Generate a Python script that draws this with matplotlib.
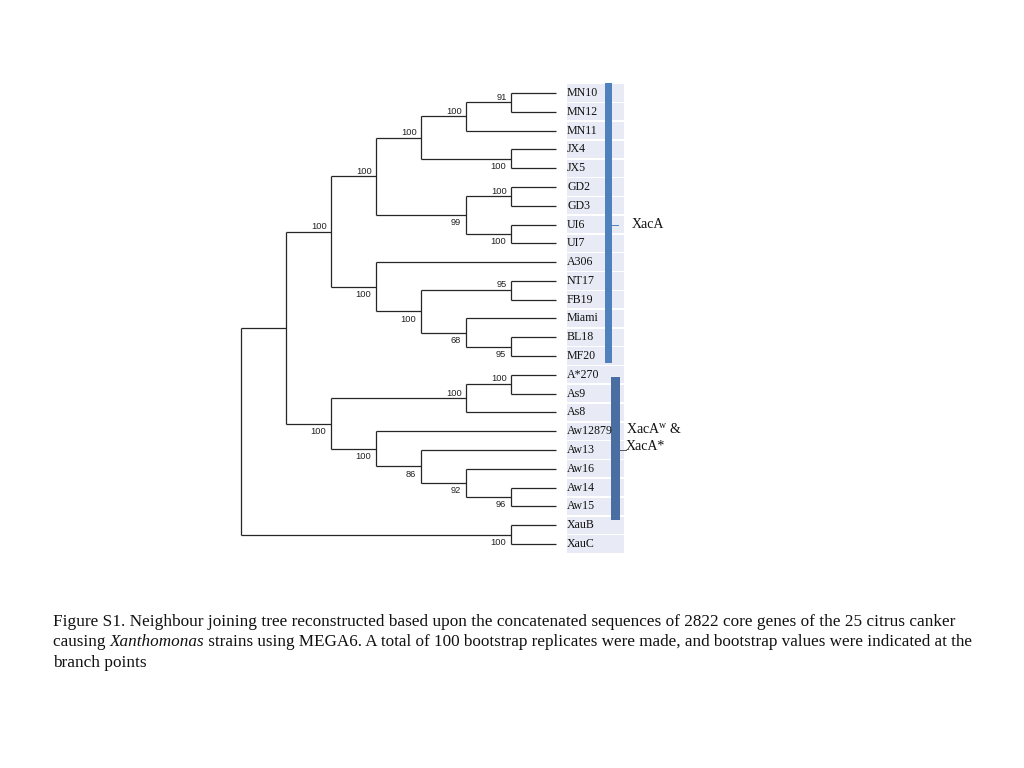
import matplotlib
matplotlib.use("Agg")
import matplotlib.pyplot as plt
from matplotlib.patches import Rectangle

# ---------------- data ----------------
leaves = ["MN10", "MN12", "MN11", "JX4", "JX5", "GD2", "GD3", "UI6", "UI7",
          "A306", "NT17", "FB19", "Miami", "BL18", "MF20",
          "A*270", "As9", "As8", "Aw12879", "Aw13", "Aw16", "Aw14", "Aw15",
          "XauB", "XauC"]

# internal nodes: name -> (upper child, lower child, bootstrap)
nodes = {
    "mn1012": ("MN10", "MN12", 91),
    "mn": ("mn1012", "MN11", 100),
    "jx": ("JX4", "JX5", 100),
    "mnjx": ("mn", "jx", 100),
    "gd": ("GD2", "GD3", 100),
    "ui": ("UI6", "UI7", 100),
    "gdui": ("gd", "ui", 99),
    "a1": ("mnjx", "gdui", 100),
    "ntfb": ("NT17", "FB19", 95),
    "blmf": ("BL18", "MF20", 95),
    "mia": ("Miami", "blmf", 68),
    "h": ("ntfb", "mia", 100),
    "a2": ("A306", "h", 100),
    "xaca": ("a1", "a2", 100),
    "as": ("A*270", "As9", 100),
    "as8": ("as", "As8", 100),
    "aw1415": ("Aw14", "Aw15", 96),
    "aw16": ("Aw16", "aw1415", 92),
    "aw13": ("Aw13", "aw16", 86),
    "aw": ("Aw12879", "aw13", 100),
    "xacw": ("as8", "aw", 100),
    "ingroup": ("xaca", "xacw", None),
    "xau": ("XauB", "XauC", 100),
    "root": ("ingroup", "xau", None),
}

group_names = ["XacA", "XacA$^{\\rm w}$ &\nXacA*"]
group_mark = ["UI6", "Aw13"]

# caption: list of lines, each a list of (text, italic)
caption_lines = [
    [("Figure S1. Neighbour joining tree reconstructed based upon the concatenated sequences of 2822 core genes of the 25 citrus canker", False)],
    [("causing ", False), ("Xanthomonas", True),
     (" strains using MEGA6. A total of 100 bootstrap replicates were made, and bootstrap values were indicated at the", False)],
    [("branch points", False)],
]

plt.rcParams["mathtext.fontset"] = "custom"
plt.rcParams["mathtext.rm"] = "Liberation Serif"
plt.rcParams["mathtext.it"] = "Liberation Serif:italic"

# ---------------- layout ----------------
W, H = 1024, 768
X0, DX = 241.0, 45.0      # pixel x of root, pixel per level
Y0, DY = 93.0, 18.79      # pixel y of first leaf, pixel per leaf

fig = plt.figure(figsize=(W / 100, H / 100), dpi=100)
ax = fig.add_axes([0, 0, 1, 1])
ax.set_xlim(-X0 / DX, (W - X0) / DX)
ax.set_ylim((H - Y0) / DY, -Y0 / DY)
ax.axis("off")

def px(x):
    return (x - X0) / DX

def py(y):
    return (y - Y0) / DY

leaf_y = {name: i for i, name in enumerate(leaves)}
height = {}
ypos = {}

def compute(n):
    if n in leaf_y:
        height[n] = 0
        ypos[n] = leaf_y[n]
        return
    a, b, _ = nodes[n]
    compute(a)
    compute(b)
    height[n] = max(height[a], height[b]) + 1
    ypos[n] = (ypos[a] + ypos[b]) / 2

compute("root")
TIP = height["root"]
xpos = {n: TIP - height[n] for n in height}

LC = "#262626"
LW = 0.9

def draw(n, parent_x=None, pos=None):
    x, y = xpos[n], ypos[n]
    if parent_x is not None:
        ax.plot([parent_x, x], [y, y], color=LC, lw=LW, solid_capstyle="butt")
    if n in nodes:
        a, b, bs = nodes[n]
        ax.plot([x, x], [ypos[a], ypos[b]], color=LC, lw=LW, solid_capstyle="butt")
        if bs is not None:
            if pos == "upper":
                ax.annotate(str(bs), (x, y), xytext=(-3, 0.6), textcoords="offset points",
                            ha="right", va="bottom", fontsize=6.7,
                            family="Liberation Sans", color="#222222")
            else:
                ax.annotate(str(bs), (x, y), xytext=(-3.5, -2.4), textcoords="offset points",
                            ha="right", va="top", fontsize=6.7,
                            family="Liberation Sans", color="#222222")
        draw(a, x, "upper")
        draw(b, x, "lower")

draw("root")

# label cells
for name, i in leaf_y.items():
    ax.add_patch(Rectangle((px(567), i - 0.46), px(624) - px(567), 0.92,
                           facecolor="#e8ebf5", edgecolor="none", zorder=0))
    ax.text(px(567), i, name, ha="left", va="center", fontsize=8.6,
            family="Liberation Serif", color="#111111", zorder=3)

# group bars
bar_x = [(605, 612), (611, 620)]
bar_y = [(83, 363), (377, 520)]
bar_col = ["#4f81bd", "#4a6ea2"]
for k in range(2):
    x1, x2 = bar_x[k]
    y1, y2 = bar_y[k]
    ax.add_patch(Rectangle((px(x1), py(y1)), px(x2) - px(x1), py(y2) - py(y1),
                           facecolor=bar_col[k], edgecolor="none", zorder=2))
    ym = leaf_y[group_mark[k]]
    ax.plot([px(x2), px(x2 + 6)], [ym, ym], color=bar_col[k] if k == 0 else "#555555",
            lw=0.7, zorder=2)

ax.text(px(632), leaf_y["UI6"], group_names[0], ha="left", va="center",
        fontsize=10, family="Liberation Serif", color="#111111")
ax.text(px(626), py(437.5), group_names[1], ha="left", va="center",
        fontsize=10, family="Liberation Serif", color="#111111", linespacing=1.38)

# caption (pieces placed one after another)
line_sizes = [12.45, 12.3, 12.45]
renderer = fig.canvas.get_renderer()
inv = ax.transData.inverted()
for j, pieces in enumerate(caption_lines):
    xcur = px(53)
    ycur = py(626 + 20.5 * j)
    for txt, ital in pieces:
        t = ax.text(xcur, ycur, txt, ha="left", va="baseline", fontsize=line_sizes[j],
                    family="Liberation Serif", style="italic" if ital else "normal",
                    color="#111111")
        bb = t.get_window_extent(renderer)
        xcur = inv.transform((bb.x1, bb.y0))[0]

fig.savefig("out.png", dpi=100)
